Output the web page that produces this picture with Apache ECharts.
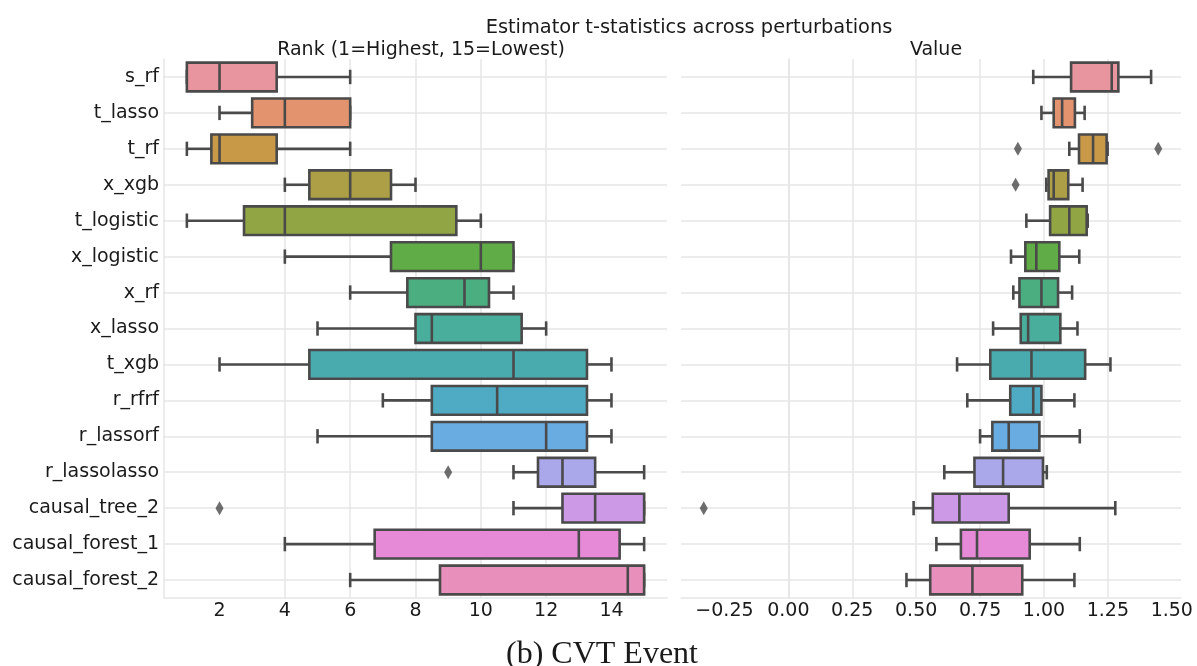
<!DOCTYPE html>
<html>
<head>
<meta charset="utf-8">
<script src="https://cdn.jsdelivr.net/npm/echarts@6/dist/echarts.min.js"></script>
<style>
html,body{margin:0;padding:0;background:#fff;}
#chart{width:1197px;height:666px;}
</style>
</head>
<body>
<div id="chart"></div>
<script>
const categories = ['s_rf','t_lasso','t_rf','x_xgb','t_logistic','x_logistic','x_rf','x_lasso','t_xgb','r_rfrf','r_lassorf','r_lassolasso','causal_tree_2','causal_forest_1','causal_forest_2'];

// [lower whisker, Q1, median, Q3, upper whisker]
const rankStats = [
  [1, 1, 2, 3.75, 6],
  [2, 3, 4, 6, 6],
  [1, 1.75, 2, 3.75, 6],
  [4, 4.75, 6, 7.25, 8],
  [1, 2.75, 4, 9.25, 10],
  [4, 7.25, 10, 11, 11],
  [6, 7.75, 9.5, 10.25, 11],
  [5, 8, 8.5, 11.25, 12],
  [2, 4.75, 11, 13.25, 14],
  [7, 8.5, 10.5, 13.25, 14],
  [5, 8.5, 12, 13.25, 14],
  [11, 11.75, 12.5, 13.5, 15],
  [11, 12.5, 13.5, 15, 15],
  [4, 6.75, 13, 14.25, 15],
  [6, 8.75, 14.5, 15, 15]
];
const rankOutliers = [['r_lassolasso', 9], ['causal_tree_2', 2]];

const valueStats = [
  [0.958, 1.106, 1.265, 1.291, 1.419],
  [0.990, 1.038, 1.071, 1.121, 1.159],
  [1.099, 1.137, 1.192, 1.245, 1.249],
  [1.009, 1.018, 1.038, 1.095, 1.151],
  [0.931, 1.024, 1.099, 1.167, 1.171],
  [0.871, 0.927, 0.970, 1.060, 1.138],
  [0.880, 0.904, 0.990, 1.055, 1.110],
  [0.801, 0.909, 0.938, 1.064, 1.131],
  [0.660, 0.790, 0.951, 1.161, 1.260],
  [0.700, 0.868, 0.958, 0.990, 1.119],
  [0.750, 0.798, 0.862, 0.982, 1.140],
  [0.610, 0.728, 0.840, 0.996, 1.011],
  [0.490, 0.565, 0.669, 0.862, 1.279],
  [0.579, 0.675, 0.738, 0.944, 1.140],
  [0.462, 0.555, 0.720, 0.915, 1.119]
];
const valueOutliers = [['t_rf', 0.898], ['t_rf', 1.447], ['x_xgb', 0.889], ['causal_tree_2', -0.331]];

const rankTicks = [2, 4, 6, 8, 10, 12, 14];
const valueTicks = [-0.25, 0, 0.25, 0.5, 0.75, 1.0, 1.25, 1.5];

const palette = ['#e8959f','#e3946f','#c89a48','#ad9f46','#92a545','#60ad47','#4aae80','#4aae9c','#4aabaf','#4eabc3','#69ace2','#aaa8ea','#cc99e7','#e68ad8','#e88fbb'];

const LINE = '#4a4a4a';
const GRID = '#e6e6e6';
const FONT = 'DejaVu Sans';
const TXT = '#1a1a1a';

function renderBox(params, api) {
  const i = api.value(0);
  const band = api.size([0, 1])[1];
  const bw = band * 0.8;
  const cy = api.coord([api.value(3), i])[1];
  const x = [1, 2, 3, 4, 5].map(k => api.coord([api.value(k), i])[0]);
  const cap = bw * 0.25;
  const ls = { stroke: LINE, lineWidth: 2.6 };
  return {
    type: 'group',
    children: [
      { type: 'line', shape: { x1: x[0], y1: cy, x2: x[1], y2: cy }, style: ls },
      { type: 'line', shape: { x1: x[3], y1: cy, x2: x[4], y2: cy }, style: ls },
      { type: 'line', shape: { x1: x[0], y1: cy - cap, x2: x[0], y2: cy + cap }, style: ls },
      { type: 'line', shape: { x1: x[4], y1: cy - cap, x2: x[4], y2: cy + cap }, style: ls },
      { type: 'rect', shape: { x: x[1], y: cy - bw / 2, width: x[3] - x[1], height: bw },
        style: { fill: palette[i], stroke: LINE, lineWidth: 2.6 } },
      { type: 'line', shape: { x1: x[2], y1: cy - bw / 2, x2: x[2], y2: cy + bw / 2 }, style: ls }
    ]
  };
}

function fmtVal(v) {
  return Number(v).toFixed(2).replace('-', '\u2212');
}

const grids = [
  { left: 164, top: 59, width: 503, height: 539 },
  { left: 681, top: 59, width: 500, height: 539 }
];

function xAxis(gi, min, max, ticks, fmt) {
  return {
    type: 'value', gridIndex: gi, min: min, max: max,
    axisLine: { show: true, lineStyle: { color: GRID, width: 1.5 } },
    axisTick: { show: false, customValues: ticks },
    axisLabel: { customValues: ticks, formatter: fmt, color: TXT, fontFamily: FONT, fontSize: 19, margin: 4 },
    splitLine: { show: true, customValues: ticks, showMinLine: false, showMaxLine: false, lineStyle: { color: GRID, width: 1.5 } }
  };
}

function yAxis(gi, showLabels) {
  return {
    type: 'category', gridIndex: gi, data: categories, inverse: true,
    axisLine: { show: true, lineStyle: { color: GRID, width: 1.5 } },
    axisTick: { show: false, alignWithLabel: true },
    axisLabel: { show: showLabels, color: TXT, fontFamily: FONT, fontSize: 19, margin: 5 },
    splitLine: { show: true, alignWithLabel: true, lineStyle: { color: GRID, width: 1.5 } }
  };
}

const option = {
  backgroundColor: '#ffffff',
  animation: false,
  title: [
    { text: 'Estimator t-statistics across perturbations', left: 684, top: 13, textAlign: 'center',
      textStyle: { fontFamily: FONT, fontSize: 19.4, fontWeight: 'normal', color: TXT } },
    { text: 'Rank (1=Highest, 15=Lowest)', left: 416, top: 36, textAlign: 'center',
      textStyle: { fontFamily: FONT, fontSize: 19, fontWeight: 'normal', color: TXT } },
    { text: 'Value', left: 931, top: 36, textAlign: 'center',
      textStyle: { fontFamily: FONT, fontSize: 19, fontWeight: 'normal', color: TXT } },
    { text: '(b) CVT Event', left: 597, top: 634, textAlign: 'center',
      textStyle: { fontFamily: 'Liberation Serif', fontSize: 32, fontWeight: 'normal', color: TXT } }
  ],
  grid: grids,
  xAxis: [
    xAxis(0, 0.3, 15.7, rankTicks, v => String(v)),
    xAxis(1, -0.42, 1.536, valueTicks, fmtVal)
  ],
  yAxis: [yAxis(0, true), yAxis(1, false)],
  series: [
    { type: 'custom', xAxisIndex: 0, yAxisIndex: 0, renderItem: renderBox,
      encode: { x: [1, 2, 3, 4, 5], y: 0 },
      data: rankStats.map((s, i) => [i].concat(s)) },
    { type: 'custom', xAxisIndex: 1, yAxisIndex: 1, renderItem: renderBox,
      encode: { x: [1, 2, 3, 4, 5], y: 0 },
      data: valueStats.map((s, i) => [i].concat(s)) },
    { type: 'scatter', xAxisIndex: 0, yAxisIndex: 0, symbol: 'diamond', symbolSize: [8, 14],
      itemStyle: { color: LINE }, data: rankOutliers.map(o => [o[1], o[0]]) },
    { type: 'scatter', xAxisIndex: 1, yAxisIndex: 1, symbol: 'diamond', symbolSize: [8, 14],
      itemStyle: { color: LINE }, data: valueOutliers.map(o => [o[1], o[0]]) }
  ]
};

const chart = echarts.init(document.getElementById('chart'), null, { renderer: 'canvas' });
chart.setOption(option);
</script>
</body>
</html>
